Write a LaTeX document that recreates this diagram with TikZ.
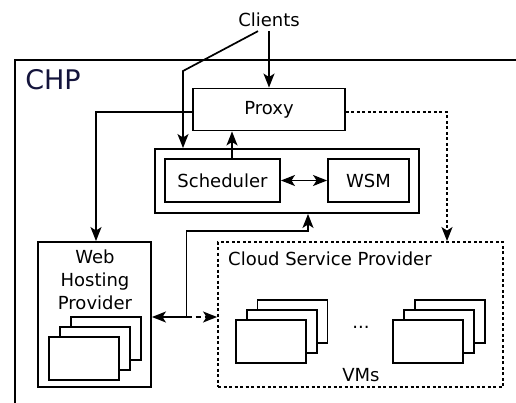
\documentclass[tikz,border=0pt]{standalone}
\usepackage{fontspec}
\setmainfont{DejaVu Sans}
\usetikzlibrary{arrows.meta}
\definecolor{chpcol}{RGB}{20,20,60}
\begin{document}
\begin{tikzpicture}[x=1pt,y=-1pt,
  every node/.style={font=\fontsize{18}{23}\selectfont},
  box/.style={draw,line width=1.9pt,inner sep=0pt,fill=white},
  vm/.style={draw,line width=1.9pt,fill=white,minimum width=70pt,minimum height=43pt,inner sep=0pt},
  line width=1.7pt,
  >={Stealth[length=14pt,width=11pt,inset=3.5pt]},
  dots/.style={dash pattern=on 3pt off 2.5pt},
  dsh/.style={dash pattern=on 5pt off 4pt}]
\useasboundingbox (0,0) rectangle (516,403);
% outer CHP frame
\draw[line width=1.9pt] (516,60) -- (15,60) -- (15,403);
\node[anchor=center,text=chpcol,font=\fontsize{27}{30}\selectfont] (chp) at (53,80) {CHP};
\node (clients) at (269,20) {Clients};
\node[box,minimum width=152pt,minimum height=42pt] (proxy) at (269,109.5) {Proxy};
\node[box,minimum width=264pt,minimum height=64pt] (sched) at (287,181) {};
\node[box,minimum width=115pt,minimum height=43pt] (scheduler) at (222.5,180.5) {Scheduler};
\node[box,minimum width=81pt,minimum height=43pt] (wsm) at (368.5,180.5) {WSM};
\node[box,minimum width=113pt,minimum height=145pt] (web) at (94.5,314.5) {};
\node[align=center] (webtxt) at (95,280) {Web\\Hosting\\Provider};
\node[draw,line width=1.9pt,dots,minimum width=285pt,minimum height=145pt,inner sep=0pt] (csp) at (360.5,314.5) {};
\node[anchor=west] (csptxt) at (224,259) {Cloud Service Provider};
% VM stacks
\node[vm] (w3) at (106,338.5) {};
\node[vm] (w2) at (95,348.5) {};
\node[vm] (w1) at (84,358.5) {};
\node[vm] (a3) at (292.5,321.5) {};
\node[vm] (a2) at (282,331.5) {};
\node[vm] (a1) at (271,341.5) {};
\node[vm] (b3) at (450,321.5) {};
\node[vm] (b2) at (439,331.5) {};
\node[vm] (b1) at (428,341.5) {};
\node (dots) at (361,327) {...};
\node (vms) at (361,375) {VMs};
% connectors
\draw[->] (clients.south) -- (proxy.north);
\draw[->] ([xshift=-11pt]clients.south) -- (183,71) -- (183,71 |- sched.north);
\draw[->] ([xshift=9.5pt]scheduler.north) -- ([xshift=9.5pt]scheduler.north |- proxy.south);
\draw[<->] (scheduler.east) -- (wsm.west);
\draw[->] ([yshift=-2.5pt]proxy.west) -| ([xshift=1.5pt]web.north);
\draw[->,dots] ([yshift=-2.5pt]proxy.east) -| ([xshift=86.5pt]csp.north);
\coordinate (j) at (186.5,317);
\draw[<->] (web.east |- j) -- (j) -- (186.5,231) -| ([xshift=21pt]sched.south);
\draw[->,dsh] (j) -- (csp.west |- j);
\end{tikzpicture}
\end{document}
